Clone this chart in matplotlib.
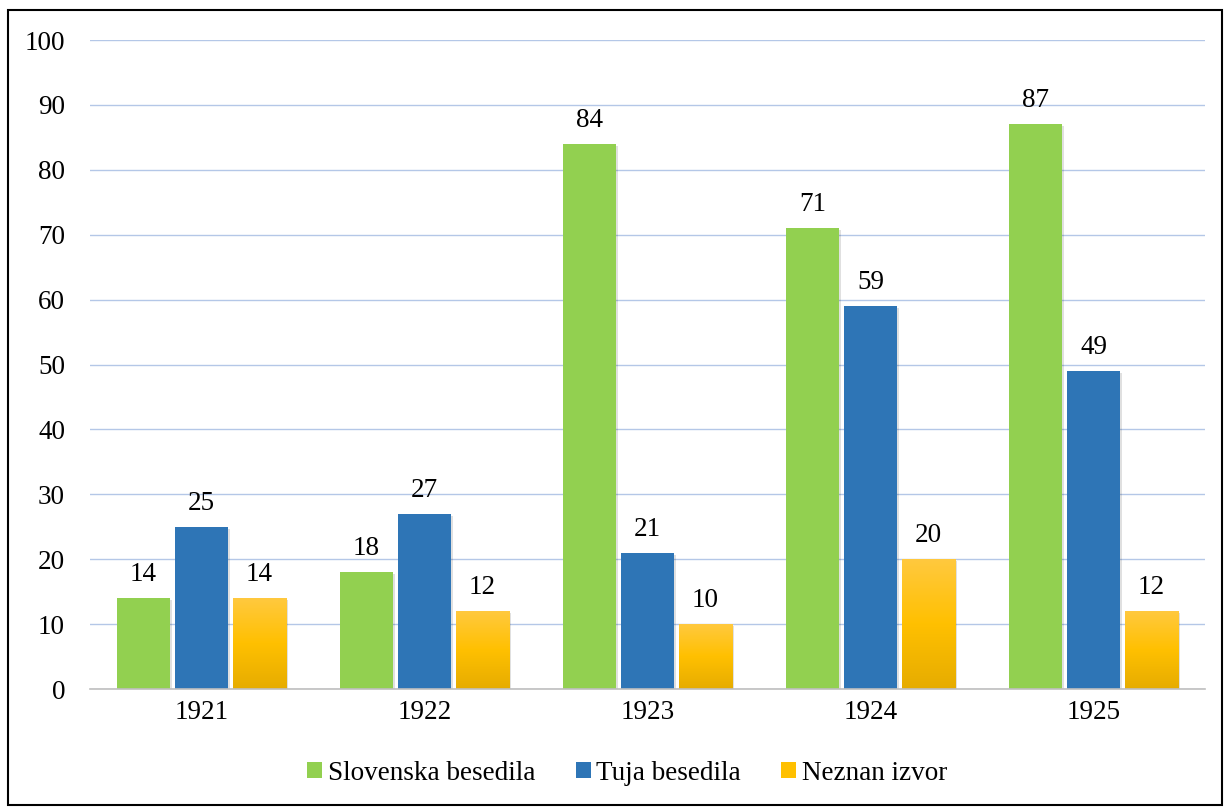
import numpy as np
import matplotlib.pyplot as plt
import matplotlib.transforms as mtransforms
from matplotlib.patches import Rectangle
from matplotlib.colors import LinearSegmentedColormap

plt.rcParams['font.family'] = 'Liberation Serif'

years = ["1921", "1922", "1923", "1924", "1925"]
slovenska = [14, 18, 84, 71, 87]
tuja = [25, 27, 21, 59, 49]
neznan = [14, 12, 10, 20, 12]
series_names = ["Slovenska besedila", "Tuja besedila", "Neznan izvor"]

green = "#92D050"
blue = "#2E75B6"
yellow = "#FFC000"
yellow_cmap = LinearSegmentedColormap.from_list("yel", ["#E6AC00", "#FFC000", "#FFC93F"])

fs = 19.5
font = 'Liberation Serif'

fig = plt.figure(figsize=(12.25, 8.07), dpi=100)
ax = fig.add_axes([0.0735, 0.1462, 0.9102, 0.8042])

x = np.arange(len(years))
w = 0.24
off = 0.26

shadow = mtransforms.offset_copy(ax.transData, fig=fig, x=2, y=-2, units='dots')
for vals, dx in [(slovenska, -off), (tuja, 0), (neznan, off)]:
    ax.bar(x + dx, vals, w, color="#000000", alpha=0.12, transform=shadow, zorder=2)

ax.bar(x - off, slovenska, w, color=green, zorder=3, label=series_names[0])
ax.bar(x, tuja, w, color=blue, zorder=3, label=series_names[1])
ybars = ax.bar(x + off, neznan, w, color=yellow, zorder=3, label=series_names[2])

grad = np.linspace(0, 1, 256).reshape(-1, 1)
for b in ybars:
    x0, h = b.get_x(), b.get_height()
    im = ax.imshow(grad, extent=[x0, x0 + w, 0, h], origin='lower', aspect='auto',
                   cmap=yellow_cmap, zorder=3.5)
    im.set_clip_path(b)

for vals, dx in [(slovenska, -off), (tuja, 0), (neznan, off)]:
    for xi, v in zip(x, vals):
        ax.annotate(str(v), (xi + dx, v), xytext=(0, 8), textcoords='offset points',
                    ha='center', va='bottom', fontsize=fs, family=font)

ax.set_xlim(-0.5, 4.5)
ax.set_ylim(0, 100)
ax.set_yticks(range(0, 101, 10))
ax.set_yticklabels([str(t) for t in range(0, 101, 10)], family=font, fontsize=fs)
ax.set_xticks(x)
ax.set_xticklabels(years, family=font, fontsize=fs)
ax.tick_params(axis='both', length=0)
ax.tick_params(axis='y', pad=18)
ax.tick_params(axis='x', pad=8)
ax.grid(axis='y', color="#B4C7E7", linewidth=1, zorder=0)
for s in ['top', 'right', 'left']:
    ax.spines[s].set_visible(False)
ax.spines['bottom'].set_color("#BFBFBF")
ax.spines['bottom'].set_linewidth(1.2)
ax.spines['bottom'].set_zorder(4)

leg = fig.legend(loc='center', bbox_to_anchor=(0.512, 0.042), ncol=3, frameon=False,
                 prop={'family': font, 'size': fs},
                 handlelength=0.55, handleheight=0.55, handletextpad=0.2,
                 columnspacing=1.5)

fig.patches.append(Rectangle((8 / 1225, 2 / 807), 1214 / 1225, 795 / 807,
                             transform=fig.transFigure, fill=False,
                             edgecolor='black', linewidth=1.5))

fig.savefig("out.png", dpi=100)
